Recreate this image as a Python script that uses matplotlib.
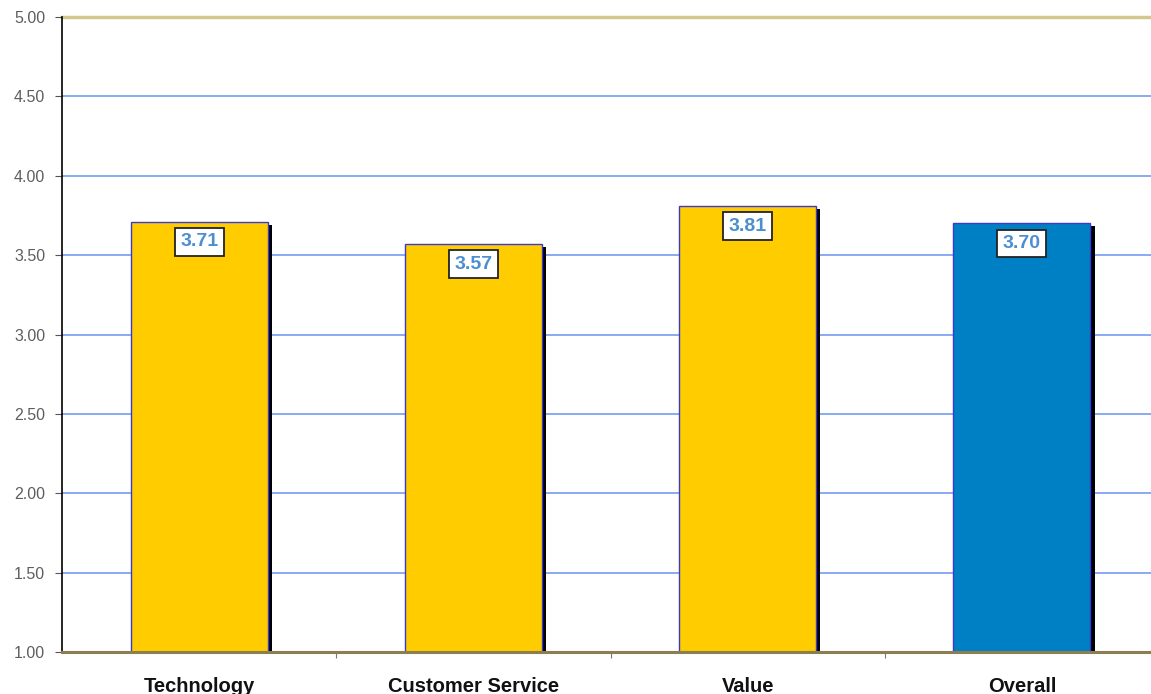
import matplotlib.pyplot as plt
import matplotlib.patheffects as pe

categories = ["Technology", "Customer Service", "Value", "Overall"]
scores = [3.71, 3.57, 3.81, 3.70]
bar_colors = ["#FFCC00", "#FFCC00", "#FFCC00", "#0080C4"]
yticks = [1.0, 1.5, 2.0, 2.5, 3.0, 3.5, 4.0, 4.5, 5.0]

plt.rcParams['font.family'] = ['Liberation Sans', 'DejaVu Sans']

fig = plt.figure(figsize=(11.51, 6.94), dpi=100)
ax = fig.add_axes([62 / 1151, 1 - 652 / 694, 1097 / 1151, 635 / 694])

x = list(range(len(categories)))
bars = ax.bar(x, [s - 1 for s in scores], bottom=1, width=0.5,
              color=bar_colors, edgecolor="#3A3AD0", linewidth=1, zorder=3)
for b in bars:
    b.set_path_effects([pe.SimplePatchShadow(offset=(3, -2), shadow_rgbFace="black", alpha=1),
                        pe.Normal()])

for xi, s in zip(x, scores):
    ax.annotate("%.2f" % s, (xi, s), xytext=(0, -14.5), textcoords="offset points",
                ha="center", va="center", fontsize=14, fontweight="bold", color="#4C8ED0",
                bbox=dict(boxstyle="square,pad=0.28", fc="white", ec="#222222", lw=1.3),
                zorder=5)

ax.set_xlim(-0.5, 3.5)
ax.set_ylim(1, 5)
ax.set_yticks(yticks)
ax.set_yticklabels(["%.2f" % v for v in yticks], color="#5E5E5E", fontsize=11.5)

# gridlines: blue in the middle, tan at the top
for v in yticks[1:-1]:
    ax.axhline(v, color="#7FA3F2", lw=1.3, zorder=1)
ax.axhline(5.0, color="#D2C88E", lw=2.5, zorder=1, clip_on=False)

ax.set_xticks([0.5, 1.5, 2.5])
ax.set_xticklabels([])
ax.tick_params(axis="x", length=4, color="#777777", direction="out")
ax.tick_params(axis="y", length=5, color="#555555", pad=7)
for xi, c in zip(x, categories):
    ax.text(xi, -0.054, c, transform=ax.get_xaxis_transform(), ha="center", va="center",
            fontsize=14.5, fontweight="bold", color="#111111")

for side in ["top", "right"]:
    ax.spines[side].set_visible(False)
ax.spines["left"].set_color("black")
ax.spines["left"].set_linewidth(1.2)
ax.spines["bottom"].set_color("#8C7E4E")
ax.spines["bottom"].set_linewidth(2.2)
ax.spines["bottom"].set_zorder(4)

fig.savefig("out.png", dpi=100)
